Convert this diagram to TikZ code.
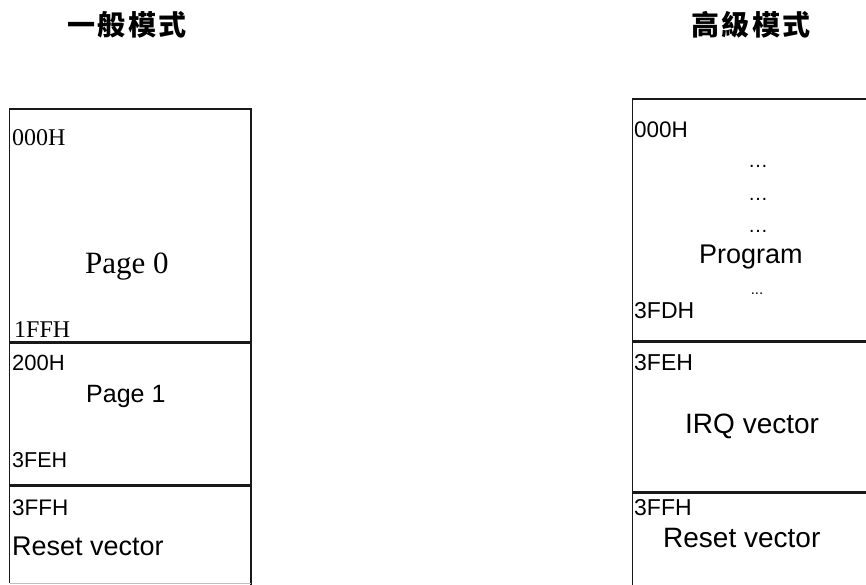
\documentclass[tikz,border=0pt]{standalone}
\usepackage{fontspec}
\setmainfont{Liberation Serif}
\newfontfamily\sansf{Liberation Sans}
\newfontfamily\cjkf[LetterSpace=8]{Noto Sans CJK TC}
\begin{document}
\begin{tikzpicture}[x=1pt,y=-1pt,
  outer/.style={draw=black!90,line width=1.6pt},
  divider/.style={draw=black!90,line width=3pt},
  lbl/.style={inner sep=0pt,anchor=base west},
  dots/.style={inner sep=0pt,anchor=base,font=\sansf\fontsize{20}{20}\selectfont},
  title/.style={inner sep=0pt,font=\cjkf\bfseries\fontsize{28}{28}\selectfont}]
\useasboundingbox (0,0) rectangle (866,584);
\clip (0,0) rectangle (866,584);
% titles
\node[title] (t1) at (127,25) {一般模式};
\node[title] (t2) at (751,25) {高級模式};
% left box
\draw[outer] (9.5,583) -- (9.5,109) -- (251,109) -- (251,590);
\draw[draw=black!25,line width=0.8pt] (9.5,583.5) -- (251,583.5);
\draw[divider] (9.5,342) -- (251,342);
\draw[divider] (9.5,485) -- (251,485);
\node[lbl,font=\fontsize{24}{24}\selectfont] (a0) at (12,145) {000H};
\node[lbl,font=\fontsize{31}{31}\selectfont] (p0) at (85,273) {Page 0};
\node[lbl,font=\fontsize{24}{24}\selectfont] (a1) at (14,337) {1FFH};
\node[lbl,font=\sansf\fontsize{22}{22}\selectfont] (a2) at (12,370) {200H};
\node[lbl,font=\sansf\fontsize{25}{25}\selectfont] (p1) at (86,402) {Page 1};
\node[lbl,font=\sansf\fontsize{21.5}{21.5}\selectfont] (a3) at (12,467) {3FEH};
\node[lbl,font=\sansf\fontsize{22.5}{22.5}\selectfont] (a4) at (12,515) {3FFH};
\node[lbl,font=\sansf\fontsize{27}{27}\selectfont] (rv1) at (12,555) {Reset vector};
% right box
\draw[outer] (632.5,590) -- (632.5,99) -- (870,99);
\draw[divider] (632.5,341) -- (870,341);
\draw[divider] (632.5,492) -- (870,492);
\node[lbl,font=\sansf\fontsize{22.5}{22.5}\selectfont] (b0) at (634,137) {000H};
\node[dots] (d1) at (758,167) {…};
\node[dots] (d2) at (758,200) {…};
\node[dots] (d3) at (758,232) {…};
\node[lbl,font=\sansf\fontsize{27}{27}\selectfont] (pg) at (699,263) {Program};
\node[dots,font=\sansf\fontsize{15}{15}\selectfont] (d4) at (757,294) {...};
\node[lbl,font=\sansf\fontsize{23}{23}\selectfont] (b1) at (634,318) {3FDH};
\node[lbl,font=\sansf\fontsize{23}{23}\selectfont] (b2) at (634,370) {3FEH};
\node[lbl,font=\sansf\fontsize{28}{28}\selectfont] (irq) at (685,433) {IRQ vector};
\node[lbl,font=\sansf\fontsize{23}{23}\selectfont] (b3) at (634,515) {3FFH};
\node[lbl,font=\sansf\fontsize{28}{28}\selectfont] (rv2) at (663,547) {Reset vector};
\end{tikzpicture}
\end{document}
